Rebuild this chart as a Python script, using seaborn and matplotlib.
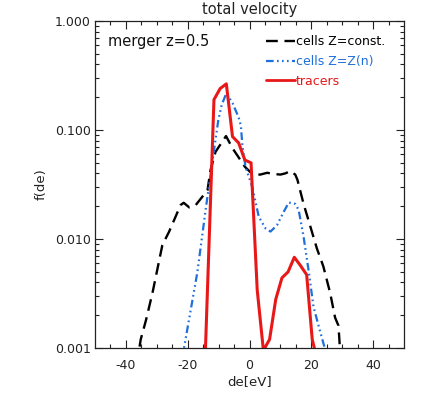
import matplotlib
matplotlib.use("Agg")
import matplotlib.pyplot as plt
import seaborn as sns
import pandas as pd
from matplotlib.lines import Line2D
from matplotlib.ticker import FixedLocator, NullFormatter, LogLocator

# ---- data ----
black_x = [-36.5, -35.2, -33.5, -31.4, -28.2, -26.0, -22.3, -21.3, -19.5, -17.4, -13.6, -12.6,
           -11.0, -7.6, -5.5, -3.5, -1.5, 0.3, 2.0, 3.5, 5.7, 7.8, 10.0, 11.6, 13.2, 14.8,
           15.5, 17.5, 19.7, 21.8, 23.9, 26.1, 27.7, 28.8, 29.6]
black_y = [0.0007, 0.0012, 0.0018, 0.0032, 0.0088, 0.0117, 0.0205, 0.0215, 0.0195, 0.0205, 0.028, 0.043,
           0.063, 0.088, 0.068, 0.056, 0.046, 0.041, 0.039, 0.039, 0.0405, 0.0395, 0.039, 0.040, 0.042, 0.039,
           0.035, 0.021, 0.013, 0.0082, 0.0056, 0.0032, 0.0019, 0.0016, 0.0007]

blue_x = [-21.8, -16.9, -14.2, -11.5, -10.1, -9.0, -7.5, -5.5, -3.5, -2.8, -2.3, -1.3, 0.9,
          3.0, 5.2, 6.8, 8.9, 11.1, 12.7, 14.8, 15.9, 17.5, 19.1, 20.7, 22.9, 24.8]
blue_y = [0.0008, 0.0049, 0.0185, 0.065, 0.123, 0.17, 0.217, 0.177, 0.13, 0.11, 0.072, 0.046, 0.030,
          0.016, 0.0125, 0.0117, 0.0134, 0.0178, 0.0216, 0.021, 0.0185, 0.0105, 0.0052, 0.0024, 0.0014, 0.0009]

red_x = [-14.3, -11.5, -9.5, -7.5, -5.5, -3.5, -1.5, 0.5, 2.5, 4.5, 6.5, 8.5, 10.5, 12.5,
         14.5, 16.5, 18.5, 20.3, 22.3]
red_y = [0.0009, 0.19, 0.24, 0.265, 0.087, 0.076, 0.053, 0.050, 0.0034, 0.00095, 0.0012, 0.0028, 0.0044,
         0.0050, 0.0068, 0.0057, 0.0047, 0.0012, 0.0007]

labels = ["cells Z=const.", "cells Z=Z(n)", "tracers"]
x_ticks = [-40, -20, 0, 20, 40]
y_ticks = [0.001, 0.01, 0.1, 1.0]
y_ticklabels = ["0.001", "0.010", "0.100", "1.000"]

BLACK = "#000000"
BLUE = "#1f6fdc"
RED = "#e81818"

sns.set_style("ticks")
plt.rcParams["font.family"] = ["DejaVu Sans"]
plt.rcParams["lines.scale_dashes"] = False

fig = plt.figure(figsize=(4.34, 3.96), dpi=100)
ax = fig.add_axes([95/434, 1-348/396, (404-95)/434, (348-21)/396])

df_b = pd.DataFrame({"de": black_x, "f": black_y})
df_c = pd.DataFrame({"de": blue_x, "f": blue_y})
df_r = pd.DataFrame({"de": red_x, "f": red_y})

black_dash = (8.5, 4.8)
blue_dash = (5.5, 2.4, 1.2, 2.4, 1.2, 2.4, 1.2, 2.4)

sns.lineplot(data=df_b, x="de", y="f", ax=ax, color=BLACK, linewidth=1.7, sort=False, estimator=None)
ax.lines[-1].set_dashes(black_dash)
sns.lineplot(data=df_c, x="de", y="f", ax=ax, color=BLUE, linewidth=1.6, sort=False, estimator=None)
ax.lines[-1].set_dashes(blue_dash)
sns.lineplot(data=df_r, x="de", y="f", ax=ax, color=RED, linewidth=2.2, sort=False, estimator=None)

ax.set_yscale("log")
ax.set_xlim(-50, 50)
ax.set_ylim(0.001, 1.0)
ax.set_xticks(x_ticks)
ax.set_xticklabels([str(t) for t in x_ticks])
ax.xaxis.set_minor_locator(FixedLocator(list(range(-45, 50, 5))))
ax.set_yticks(y_ticks)
ax.set_yticklabels(y_ticklabels)
ax.yaxis.set_minor_locator(LogLocator(base=10, subs=range(2, 10)))
ax.yaxis.set_minor_formatter(NullFormatter())

for s in ax.spines.values():
    s.set_visible(True)
    s.set_linewidth(0.9)
    s.set_color("#222222")

ax.tick_params(which="both", direction="in", top=True, right=True, colors="#222222",
               labelsize=9, width=0.8)
ax.tick_params(which="major", length=6)
ax.tick_params(which="minor", length=3)
ax.tick_params(axis="x", which="major", pad=8)
ax.tick_params(axis="y", which="major", pad=3)
for lab in ax.get_xticklabels() + ax.get_yticklabels():
    lab.set_color("#222222")

ax.set_xlabel("de[eV]", fontsize=9.5, color="#222222", labelpad=2)
ax.set_ylabel("f(de)", fontsize=9.5, color="#222222", labelpad=5)
ax.set_title("total velocity", fontsize=10.5, color="#222222", pad=5)

ax.text(0.042, 0.936, "merger z=0.5", transform=ax.transAxes, fontsize=10.5,
        va="center", ha="left", color="#111111")

handles = [Line2D([], [], color=BLACK, linewidth=1.7, dashes=black_dash),
           Line2D([], [], color=BLUE, linewidth=1.6, dashes=blue_dash),
           Line2D([], [], color=RED, linewidth=2.0)]
leg = ax.legend(handles, labels, loc="upper right",
                bbox_to_anchor=((385-95)/309, 1-(35-21)/327), borderaxespad=0, borderpad=0,
                frameon=False, fontsize=9, handlelength=2.3, handletextpad=0.1,
                labelspacing=0.55, labelcolor=[BLACK, BLUE, RED])

fig.savefig("out.png", dpi=100)
